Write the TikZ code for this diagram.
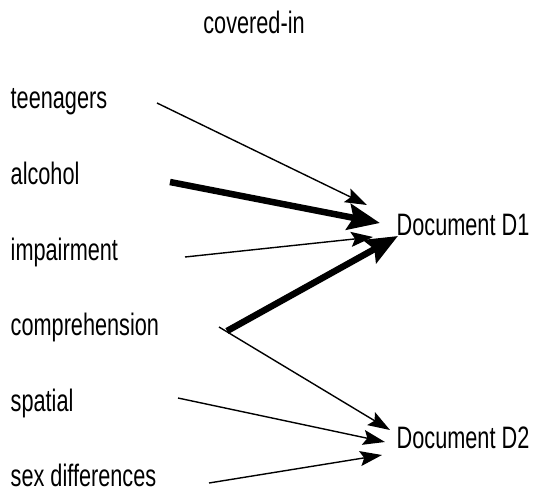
\documentclass[tikz,border=0pt]{standalone}
\usepackage{fontspec}
\setmainfont{Liberation Sans}[FakeStretch=0.70]
\usetikzlibrary{arrows.meta}

\begin{document}
\begin{tikzpicture}[x=1pt, y=1pt, line width=1.4pt,
	word/.style={inner sep=0pt, anchor=base west, font=\fontsize{31}{36}\selectfont},
	thinarr/.style={-{Stealth[length=22pt, width=15pt, inset=4pt]}},
	thickarr/.style={line width=6.5pt, -{Stealth[length=32pt, width=26pt, inset=5pt]}}]
	\useasboundingbox (0,0) rectangle (533,-493);
	\node[word, anchor=base] (rel) at (254,-33) {covered-in};

	\node[word] (teen) at (10,-108) {teenagers};
	\node[word] (alc) at (10,-184) {alcohol};
	\node[word] (imp) at (10,-260) {impairment};
	\node[word] (comp) at (10,-335) {comprehension};
	\node[word] (spat) at (10,-411) {spatial};
	\node[word] (sex) at (10,-486) {sex differences};

	\node[word] (d1) at (396,-235) {Document D1};
	\node[word] (d2) at (396,-448) {Document D2};

	\draw[thinarr] ([shift={(147,5)}]teen.base west) -- ([shift={(-29,30)}]d1.base west);
	\draw[thickarr] ([shift={(160,2)}]alc.base west) -- ([shift={(-16,12)}]d1.base west);
	\draw[thinarr] ([shift={(175,3)}]imp.base west) -- ([shift={(-23,-2)}]d1.base west);
	\draw[thickarr] ([shift={(217,4)}]comp.base west) -- ([shift={(2,-1)}]d1.base west);

	\draw[thinarr] ([shift={(209,8)}]comp.base west) -- ([shift={(-6,18)}]d2.base west);
	\draw[thinarr] ([shift={(168,13)}]spat.base west) -- ([shift={(-11,6)}]d2.base west);
	\draw[thinarr] ([shift={(199,3)}]sex.base west) -- ([shift={(-14,-7)}]d2.base west);
\end{tikzpicture}
\end{document}
